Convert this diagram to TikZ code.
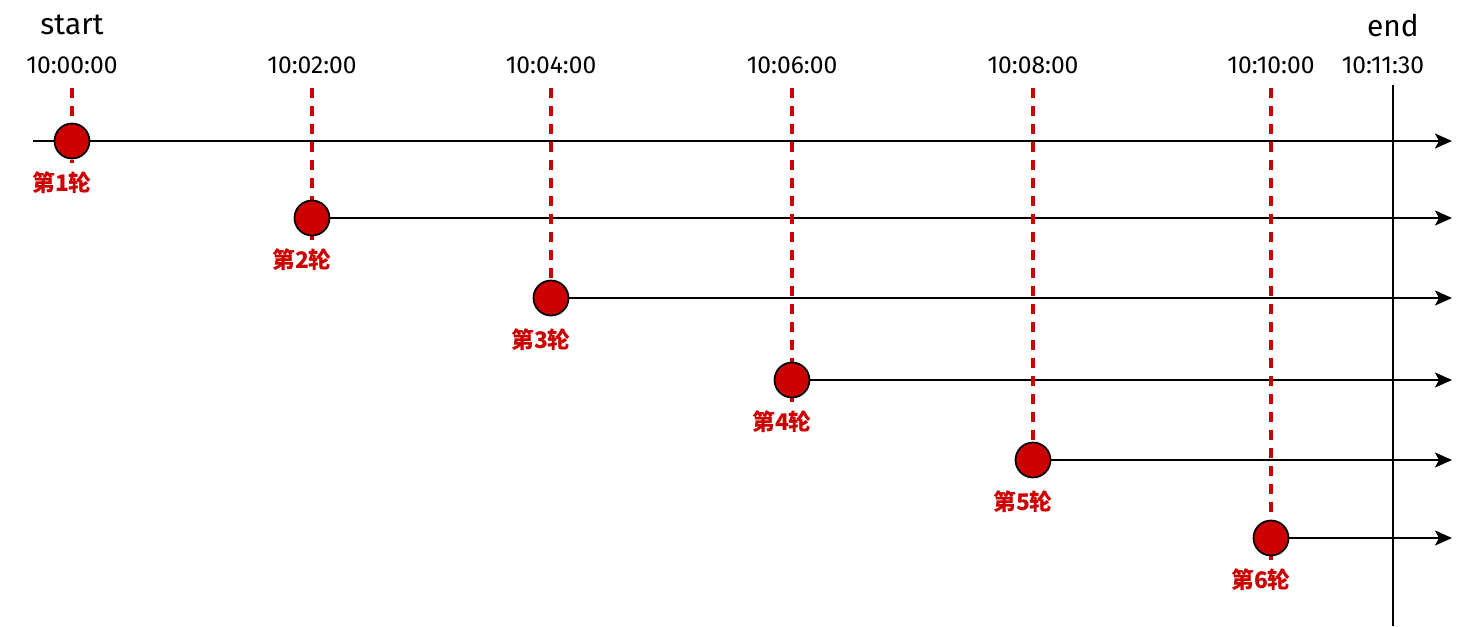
\documentclass[tikz,border=0pt]{standalone}
\usepackage{fontspec}
\setmainfont{Fira Sans}
\newfontfamily\cjk{Noto Sans CJK SC}
\usepackage{xcolor}
\usetikzlibrary{arrows.meta}
\definecolor{roundred}{HTML}{CC0000}

\begin{document}
\begin{tikzpicture}[x=0.02cm,y=-0.02cm,
  dot/.style={circle,draw=black,line width=1pt,fill=roundred,minimum size=0.7cm,inner sep=0pt},
  guide/.style={roundred,line width=2pt,dash pattern=on 0.2cm off 0.16cm},
  flow/.style={line width=1.1pt,-{Stealth[length=0.34cm,width=0.3cm,inset=0.08cm]}},
  timelbl/.style={font=\fontsize{14}{16}\selectfont},
  roundlbl/.style={font=\cjk\bfseries\fontsize{13}{15}\selectfont,text=roundred}]
\useasboundingbox (0,0) rectangle (1468,626);
% marks at top
\node[font=\fontsize{17}{19}\selectfont] (start) at (72,25) {start};
\node[font=\fontsize{17}{19}\selectfont] (end) at (1393,25) {end};
\node[timelbl] (tend) at (1383,65) {10:11:30};
\coordinate (endtop) at (1393,85);
\coordinate (endbot) at (1393,626);
\draw[line width=1.1pt] (endtop) -- (endbot);
% the rounds
\foreach \i/\x/\y/\t in {1/72/141/10:00:00,2/312/218/10:02:00,3/551/298/10:04:00,
                         4/792/380/10:06:00,5/1033/460/10:08:00,6/1271/538/10:10:00} {
  \node[timelbl] (t\i) at (\x,65) {\t};
  \coordinate (top\i) at (\x,88);
  \coordinate (bot\i) at (\x,\y+22);
  \coordinate (tip\i) at (1452,\y);
  \draw[guide] (top\i) -- (bot\i);
  \node[dot] (r\i) at (\x,\y) {};
  \draw[flow] (r\i) -- (tip\i);
  \node[roundlbl] (l\i) at (\x-10,\y+42) {第\i 轮};
}
\coordinate (s) at (33,141);
\draw[line width=1.1pt] (s) -- (r1);
\end{tikzpicture}
\end{document}
